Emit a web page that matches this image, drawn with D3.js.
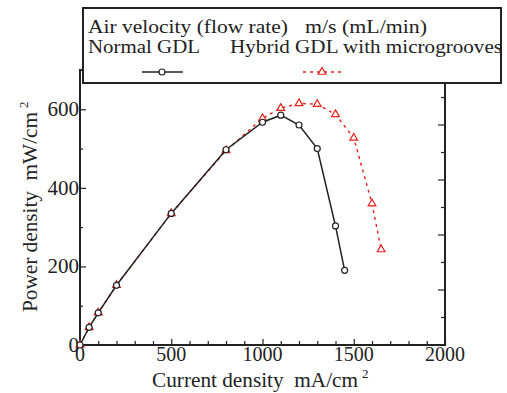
<!DOCTYPE html>
<html>
<head>
<meta charset="utf-8">
<style>
  body { margin: 0; background: #fff; }
  text { font-family: "Liberation Serif", "Times New Roman", serif; fill: #222; white-space: pre; }
</style>
<script src="https://cdn.jsdelivr.net/npm/d3@7"></script>
</head>
<body>
<div id="chart"></div>
<script>
// current density (mA/cm2) and power density (mW/cm2)
var normalX = [0, 50, 100, 200, 500, 800, 1000, 1100, 1200, 1300, 1400, 1450];
var normalY = [0, 45, 82, 152, 335, 497, 567, 585, 560, 500, 303, 190];
var hybridX = [0, 50, 100, 200, 500, 800, 1000, 1100, 1200, 1300, 1400, 1500, 1600, 1650];
var hybridY = [0, 45, 82, 152, 335, 495, 577, 603, 615, 613, 587, 527, 360, 243];
var xTicks = [0, 500, 1000, 1500, 2000];
var yTicks = [0, 200, 400, 600];

var width = 507, height = 393;
var mLeft = 80, mRight = 445, mTop = 70, mBottom = 345;

var svg = d3.select("#chart").append("svg")
    .attr("width", width)
    .attr("height", height);

var x = d3.scaleLinear().domain([0, 2000]).range([mLeft, mRight]);
var y = d3.scaleLinear().domain([0, 700]).range([mBottom, mTop]);

// minor + major ticks, pointing inward
var xAxis = d3.axisBottom(x).tickValues(d3.range(0, 2001, 100))
    .tickSize(-5).tickFormat("");
svg.append("g").attr("transform", "translate(0," + mBottom + ")").call(xAxis)
    .call(function(g) {
      g.select(".domain").remove();
      g.selectAll(".tick line").attr("stroke", "#222").attr("stroke-width", 1.2)
        .attr("y2", function(d) { return d % 500 === 0 ? -6 : -4; });
    });

var yAxis = d3.axisLeft(y).tickValues(d3.range(0, 701, 100))
    .tickSize(-5).tickFormat("");
svg.append("g").attr("transform", "translate(" + mLeft + ",0)").call(yAxis)
    .call(function(g) {
      g.select(".domain").remove();
      g.selectAll(".tick line").attr("stroke", "#222").attr("stroke-width", 1.2)
        .attr("x2", function(d) { return d % 200 === 0 ? 6 : 3; });
    });

// right side ticks (10 divisions)
var yr = d3.scaleLinear().domain([0, 10]).range([mBottom, mTop]);
svg.append("g").selectAll("line").data(d3.range(1, 10)).enter().append("line")
    .attr("x1", mRight).attr("x2", function(d) { return d % 2 === 0 ? mRight - 7 : mRight - 4; })
    .attr("y1", function(d) { return yr(d); }).attr("y2", function(d) { return yr(d); })
    .attr("stroke", "#222").attr("stroke-width", 1.2);

// frame
svg.append("rect")
    .attr("x", mLeft).attr("y", mTop)
    .attr("width", mRight - mLeft).attr("height", mBottom - mTop)
    .attr("fill", "none").attr("stroke", "#222").attr("stroke-width", 2);

// tick labels
svg.append("g").selectAll("text").data(xTicks).enter().append("text")
    .attr("x", function(d) { return x(d); })
    .attr("y", mBottom + 16)
    .attr("text-anchor", "middle")
    .style("font-size", "20px")
    .text(function(d) { return d; });

svg.append("g").selectAll("text").data(yTicks).enter().append("text")
    .attr("x", mLeft - 1)
    .attr("y", function(d) { return y(d) + 7; })
    .attr("text-anchor", "end")
    .style("font-size", "21px")
    .text(function(d) { return d; });

// axis titles
var xt = svg.append("text")
    .attr("x", 152).attr("y", 387)
    .style("font-size", "20px");
xt.append("tspan").attr("textLength", 206).attr("lengthAdjust", "spacingAndGlyphs")
    .text("Current density  mA/cm");
xt.append("tspan").attr("dy", -9).attr("dx", 4).style("font-size", "13px").text("2");

var yt = svg.append("text")
    .attr("transform", "translate(37,312) rotate(-90)")
    .style("font-size", "20px");
yt.append("tspan").attr("textLength", 200).attr("lengthAdjust", "spacingAndGlyphs")
    .text("Power density  mW/cm");
yt.append("tspan").attr("dy", -9).attr("dx", 4).style("font-size", "13px").text("2");

// series
var normal = normalX.map(function(d, i) { return [d, normalY[i]]; });
var hybrid = hybridX.map(function(d, i) { return [d, hybridY[i]]; });
var line = d3.line().x(function(d) { return x(d[0]); }).y(function(d) { return y(d[1]); });
var tri = d3.symbol().type(d3.symbolTriangle).size(26);

svg.append("path").datum(hybrid).attr("d", line)
    .attr("fill", "none").attr("stroke", "#e8201c").attr("stroke-width", 1.4)
    .attr("stroke-dasharray", "3,4");
svg.append("g").selectAll("path").data(hybrid).enter().append("path")
    .attr("d", tri)
    .attr("transform", function(d) { return "translate(" + x(d[0]) + "," + y(d[1]) + ")"; })
    .attr("fill", "#fff").attr("stroke", "#e8201c").attr("stroke-width", 1.2);

svg.append("path").datum(normal).attr("d", line)
    .attr("fill", "none").attr("stroke", "#222").attr("stroke-width", 1.5);
svg.append("g").selectAll("circle").data(normal).enter().append("circle")
    .attr("cx", function(d) { return x(d[0]); })
    .attr("cy", function(d) { return y(d[1]); })
    .attr("r", 3)
    .attr("fill", "#fff").attr("stroke", "#222").attr("stroke-width", 1.2);

// legend
var lg = svg.append("g");
lg.append("rect").attr("x", 83).attr("y", 8).attr("width", 418).attr("height", 75)
    .attr("fill", "#fff").attr("stroke", "#222").attr("stroke-width", 2);
function legendText(x0, y0, len, s) {
  lg.append("text").attr("x", x0).attr("y", y0).style("font-size", "19px")
    .attr("textLength", len).attr("lengthAdjust", "spacingAndGlyphs").text(s);
}
legendText(88, 33, 200, "Air velocity (flow rate)");
legendText(305, 33, 122, "m/s (mL/min)");
legendText(88, 53, 112, "Normal GDL");
legendText(230, 53, 272, "Hybrid GDL with microgrooves");
lg.append("line").attr("x1", 142).attr("x2", 183).attr("y1", 72).attr("y2", 72)
    .attr("stroke", "#222").attr("stroke-width", 1.5);
lg.append("circle").attr("cx", 162).attr("cy", 72).attr("r", 3)
    .attr("fill", "#fff").attr("stroke", "#222").attr("stroke-width", 1.2);
lg.append("line").attr("x1", 303).attr("x2", 345).attr("y1", 72).attr("y2", 72)
    .attr("stroke", "#e8201c").attr("stroke-width", 1.4).attr("stroke-dasharray", "3,4");
lg.append("path").attr("d", tri).attr("transform", "translate(322,72)")
    .attr("fill", "#fff").attr("stroke", "#e8201c").attr("stroke-width", 1.2);
</script>
</body>
</html>
